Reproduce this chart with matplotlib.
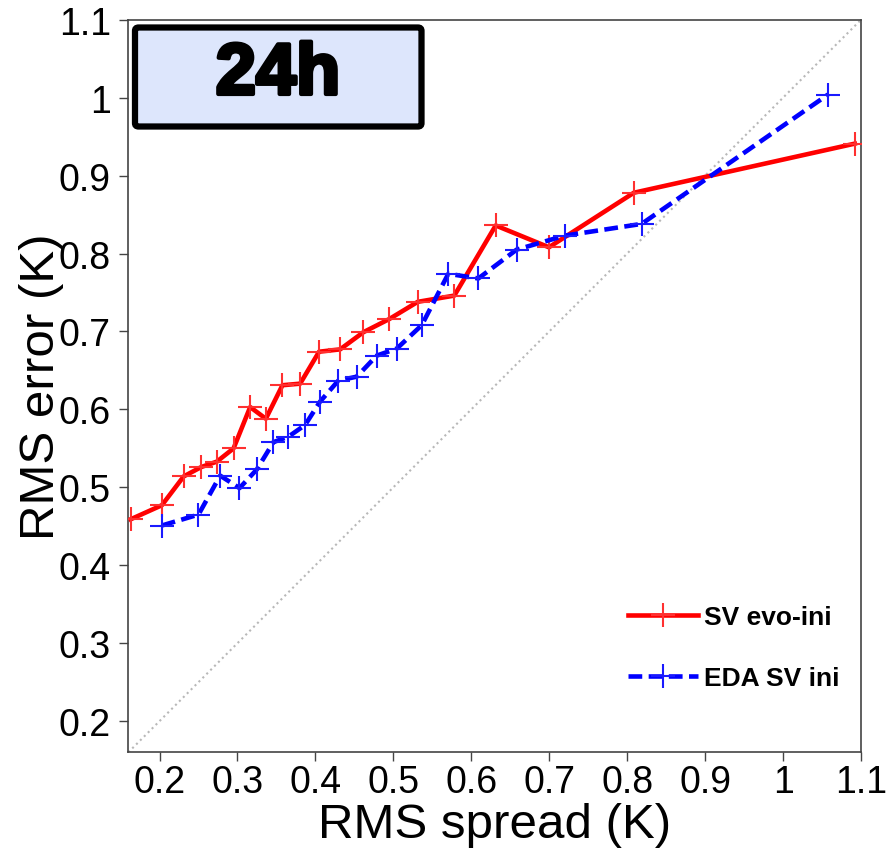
import matplotlib
matplotlib.use('Agg')
import matplotlib.pyplot as plt
import matplotlib.patheffects as pe
from matplotlib.patches import FancyBboxPatch

plt.rcParams['font.family'] = ['Liberation Sans', 'DejaVu Sans']

# data
sv_evo_x = [0.163, 0.203, 0.231, 0.2535, 0.2736, 0.295, 0.3163, 0.3364, 0.3577, 0.3804,
            0.4047, 0.4317, 0.4615, 0.4949, 0.5313, 0.5782, 0.6313, 0.6996, 0.8086, 1.092]
sv_evo_y = [0.459, 0.477, 0.514, 0.526, 0.533, 0.550, 0.603, 0.588, 0.631, 0.633,
            0.674, 0.677, 0.699, 0.716, 0.738, 0.746, 0.836, 0.808, 0.878, 0.941]

eda_x = [0.203, 0.250, 0.2778, 0.3026, 0.3249, 0.3462, 0.3654, 0.3868, 0.406, 0.4295,
         0.4531, 0.4787, 0.5044, 0.5364, 0.5705, 0.609, 0.6582, 0.7201, 0.8185, 1.0577]
eda_y = [0.451, 0.465, 0.515, 0.499, 0.523, 0.558, 0.565, 0.580, 0.610, 0.637,
         0.642, 0.669, 0.678, 0.708, 0.774, 0.768, 0.805, 0.823, 0.838, 1.004]

ticks = [0.2, 0.3, 0.4, 0.5, 0.6, 0.7, 0.8, 0.9, 1.0, 1.1]
tick_labels = ['0.2', '0.3', '0.4', '0.5', '0.6', '0.7', '0.8', '0.9', '1', '1.1']
lim = (0.16, 1.1)

fig = plt.figure(figsize=(8.87, 8.53), dpi=100)
ax = fig.add_axes([0.1447, 0.1169, 0.8260, 0.8588])

# diagonal
ax.plot(lim, lim, color='#b8b8b8', linestyle=':', linewidth=1.5, zorder=1)

ax.plot(sv_evo_x, sv_evo_y, color='#ff0000', linewidth=3.3, marker='+', markersize=17,
        markeredgewidth=1.5, markeredgecolor='#ff3030', label='SV evo-ini', zorder=3)
ax.plot(eda_x, eda_y, color='#0000ff', linewidth=3.3, dashes=(3.0, 1.4), marker='+',
        markersize=17, markeredgewidth=1.5, markeredgecolor='#1a1aff', label='EDA SV ini', zorder=3)

ax.set_xlim(lim)
ax.set_ylim(lim)
ax.set_xticks(ticks)
ax.set_xticklabels(tick_labels)
ax.set_yticks(ticks)
ax.set_yticklabels(tick_labels)
ax.tick_params(axis='both', direction='out', length=6.5, width=1, color='#444444', labelsize=27)
ax.tick_params(axis='x', pad=2)
ax.tick_params(axis='y', pad=6)
for s in ax.spines.values():
    s.set_color('#444444')
    s.set_linewidth(1.2)

ax.set_xlabel('RMS spread (K)', fontsize=35.5)
ax.set_ylabel('RMS error (K)', fontsize=35.5)
ax.xaxis.set_label_coords(0.5, -0.068)
ax.yaxis.set_label_coords(-0.088, 0.5)

leg = ax.legend(loc='center left', bbox_to_anchor=(628 / 887, 1 - 648.5 / 853),
                bbox_transform=fig.transFigure, frameon=False, numpoints=1,
                handlelength=2.65, handletextpad=0.22, labelspacing=1.4,
                borderpad=0, borderaxespad=0,
                prop={'size': 19, 'weight': 'bold'})

# title box
box = FancyBboxPatch((135 / 887, 1 - 127.5 / 853), 286.5 / 887, 99 / 853,
                     boxstyle='round,pad=0,rounding_size=0.004', transform=fig.transFigure,
                     facecolor='#dde6fc', edgecolor='black', linewidth=4.5, zorder=5)
fig.patches.append(box)
fig.text(278 / 887, 1 - 76 / 853, '24h', fontsize=52, fontweight='bold', ha='center',
         va='center', zorder=6,
         path_effects=[pe.withStroke(linewidth=3, foreground='black')])

fig.savefig('out.png', dpi=100)
